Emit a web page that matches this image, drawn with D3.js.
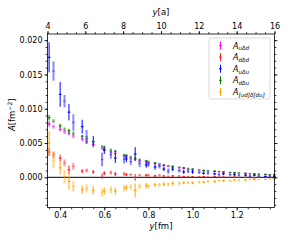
<!DOCTYPE html>
<html><head><meta charset="utf-8">
<script src="https://cdn.jsdelivr.net/npm/d3@7"></script>
<style>body{margin:0;background:#fff}svg{display:block}text{font-family:"DejaVu Sans",sans-serif}</style>
</head><body><svg id="c" width="288" height="240"></svg>
<script>
const xFm = [0.35,0.37,0.40,0.42,0.44,0.46,0.50,0.52,0.55,0.59,0.60,0.63,0.65,0.69,0.70,0.72,0.74,0.76,0.79,0.80,0.83,0.85,0.87,0.89,0.91,0.94,0.96,0.98,1.00,1.03,1.05,1.07,1.10,1.12,1.14,1.17,1.19,1.21,1.24,1.26,1.28,1.30,1.33,1.35,1.37];
const uDd = [0.0078,0.0074,0.0070,0.0066,0.0064,0.0060,0.0056,0.0052,0.0048,0.0042,0.0040,0.0037,0.0035,0.0031,0.0030,0.0028,0.0026,0.0024,0.0022,0.0021,0.0020,0.0018,0.0017,0.0016,0.0015,0.0014,0.0013,0.0012,0.0011,0.0010,0.00095,0.0009,0.00085,0.0008,0.00075,0.0007,0.00065,0.0006,0.00055,0.0005,0.00047,0.00044,0.0004,0.00038,0.00035];
const uDdErr = [0.0004,0.0003,0.0003,0.0003,0.0003,0.0003,0.0003,0.0003,0.0002,0.0002,0.0002,0.0002,0.0002,0.0002,0.0002,0.0002,0.0002,0.0002,0.00015,0.00015,0.00015,0.00015,0.00015,0.00015,0.0001,0.0001,0.0001,0.0001,0.0001,0.0001,0.0001,0.0001,0.0001,0.0001,0.0001,0.0001,0.0001,0.0001,0.0001,0.0001,0.0001,0.0001,0.0001,0.0001,0.0001];
const dDd = [0.0037,0.0033,0.0028,0.0021,0.0011,0.0016,0.0009,0.0010,0.0008,0.0002,0.0006,0.0007,0.0005,0.0005,0.0004,0.0004,0.0000,0.0003,0.0003,0.0003,0.0002,0.0003,0.0002,0.0001,0.0002,0.0002,0.0001,0.0001,0.0001,0.0001,0.0001,0.00005,0.0001,0.00005,0.00005,0.0,0.00005,0.0,0.0,0.0,-0.00005,0.0,0.0,0.0,0.0];
const dDdErr = [0.0006,0.0005,0.0005,0.0005,0.0006,0.0005,0.0003,0.0003,0.0003,0.0004,0.0003,0.0003,0.0003,0.0003,0.0002,0.0002,0.0005,0.0002,0.0002,0.0002,0.0002,0.0002,0.00015,0.0002,0.00015,0.00015,0.00015,0.00015,0.0001,0.0001,0.0001,0.0001,0.0001,0.0001,0.0001,0.0001,0.0001,0.0001,0.0001,0.0001,0.0001,0.0001,0.0001,0.0001,0.0001];
const uDu = [0.0175,0.0155,0.0121,0.0111,0.0095,0.0080,0.0074,0.0059,0.0052,0.0026,0.0040,0.0033,0.0028,0.0026,0.0027,0.0023,0.0034,0.0020,0.0018,0.0019,0.0015,0.0016,0.0012,0.0009,0.0012,0.0010,0.0008,0.0009,0.0008,0.0007,0.0006,0.0006,0.0005,0.0004,0.0005,0.0004,0.0004,0.0003,0.0003,0.0002,0.0003,0.0002,0.0001,0.0002,0.0001];
const uDuErr = [0.0022,0.0014,0.0018,0.0009,0.0012,0.0012,0.0010,0.0010,0.0008,0.0010,0.0006,0.0006,0.0007,0.0006,0.0005,0.0005,0.0010,0.0005,0.0004,0.0004,0.0004,0.0003,0.0003,0.0004,0.0003,0.0003,0.0003,0.0003,0.0003,0.0002,0.0002,0.0002,0.0002,0.0002,0.0002,0.0002,0.0002,0.00015,0.00015,0.00015,0.00015,0.00015,0.00015,0.00015,0.00015];
const dDu = [0.0087,0.0082,0.0075,0.0070,0.0068,0.0064,0.0060,0.0056,0.0052,0.0045,0.0043,0.0040,0.0038,0.0033,0.0032,0.0030,0.0028,0.0026,0.0024,0.0023,0.0021,0.0020,0.0018,0.0017,0.0016,0.0015,0.0014,0.0013,0.0012,0.0011,0.0010,0.00095,0.0009,0.00085,0.0008,0.00072,0.00068,0.00064,0.00058,0.00054,0.0005,0.00046,0.00042,0.0004,0.00037];
const dDuErr = [0.0004,0.0003,0.0003,0.0003,0.0003,0.0003,0.0002,0.0002,0.0002,0.0002,0.0002,0.0002,0.0002,0.00015,0.00015,0.00015,0.00015,0.00015,0.00015,0.00015,0.0001,0.0001,0.0001,0.0001,0.0001,0.0001,0.0001,0.0001,0.0001,0.0001,0.0001,0.0001,0.0001,0.0001,0.0001,0.0001,0.0001,0.0001,0.0001,0.0001,0.0001,0.0001,0.0001,0.0001,0.0001];
const udDdu = [0.0050,0.0025,0.0014,0.0001,-0.0006,-0.0013,-0.0018,-0.0016,-0.0019,-0.0022,-0.0020,-0.0018,-0.0020,-0.0016,-0.0015,-0.0014,-0.0019,-0.0013,-0.0012,-0.0013,-0.0011,-0.0011,-0.0010,-0.0010,-0.0009,-0.0009,-0.0008,-0.0008,-0.0008,-0.0007,-0.0007,-0.0006,-0.0006,-0.0005,-0.0005,-0.0005,-0.0004,-0.0004,-0.0004,-0.0003,-0.0003,-0.0003,-0.0003,-0.0002,-0.0002];
const udDduErr = [0.0017,0.0012,0.0010,0.0010,0.0012,0.0008,0.0006,0.0006,0.0006,0.0006,0.0005,0.0005,0.0005,0.0005,0.0004,0.0004,0.0010,0.0004,0.0004,0.0003,0.0003,0.0003,0.0003,0.0003,0.0003,0.0003,0.0002,0.0002,0.0002,0.0002,0.0002,0.0002,0.0002,0.00015,0.00015,0.00015,0.00015,0.00015,0.00015,0.00015,0.00015,0.0001,0.0001,0.0001,0.0001];
const seriesNames = ["uδd","dδd","uδu","dδu","[ud]δ[du]"];
const seriesColors = ["#ff00ff","#ff2020","#0000ff","#008000","#ffa500"];
const yTicks = [0.000,0.005,0.010,0.015,0.020];
const xTicks = [0.4,0.6,0.8,1.0,1.2];
const aTicks = [4,6,8,10,12,14,16];

const series = [
  {v:uDd,e:uDdErr},{v:dDd,e:dDdErr},{v:uDu,e:uDuErr},{v:dDu,e:dDuErr},{v:udDdu,e:udDduErr}
];
const drawOrder = [0,1,2,3,4];

const svg = d3.select("#c");
const L=47.5,R=274.5,T=34,B=207.5;
const aLat = 0.0857;
const x = d3.scaleLinear().domain([4*aLat,16*aLat]).range([L,R]);
const xa = d3.scaleLinear().domain([4,16]).range([L,R]);
const y = d3.scaleLinear().domain([-0.0044,0.0209]).range([B,T]);

svg.append("line").attr("x1",L).attr("x2",R).attr("y1",y(0)).attr("y2",y(0)).attr("stroke","#000").attr("stroke-width",1);

const g = svg.append("g");
drawOrder.forEach(si=>{
  const s = series[si], col = seriesColors[si];
  const sg = g.append("g");
  xFm.forEach((xv,i)=>{
    const op = (i%2===1)?0.45:1;
    const w = (i%2===1)?2:1;
    sg.append("line").attr("x1",x(xv)).attr("x2",x(xv))
      .attr("y1",y(s.v[i]-s.e[i])).attr("y2",y(s.v[i]+s.e[i]))
      .attr("stroke",col).attr("stroke-width",w).attr("opacity",op);
    sg.append("line").attr("x1",x(xv)-1.3).attr("x2",x(xv)+1.3)
      .attr("y1",y(s.v[i])).attr("y2",y(s.v[i]))
      .attr("stroke",col).attr("stroke-width",1.2).attr("opacity",op);
  });
});

svg.append("rect").attr("x",L).attr("y",T).attr("width",R-L).attr("height",B-T)
  .attr("fill","none").attr("stroke","#000").attr("stroke-width",0.8);

function axisStyle(sel){
  sel.select(".domain").remove();
  sel.selectAll("text").attr("font-size",8).attr("fill","#000").style("font-family","DejaVu Sans");
  sel.selectAll("line").attr("stroke","#000").attr("stroke-width",0.8);
}
const minorX = d3.range(0,21).map(i=>0.35+i*0.05).filter(v=>v<=1.371);
const minorA = d3.range(0,25).map(i=>4+i*0.5);
const minorY = d3.range(-4,21).map(i=>i*0.001);

svg.append("g").attr("transform",`translate(0,${B})`).call(d3.axisBottom(x).tickValues(minorX).tickSize(1.8).tickFormat("")).call(axisStyle);
svg.append("g").attr("transform",`translate(0,${B})`).call(d3.axisBottom(x).tickValues(xTicks).tickSize(3).tickPadding(2).tickFormat(d3.format(".1f"))).call(axisStyle);
svg.append("g").attr("transform",`translate(0,${T})`).call(d3.axisTop(xa).tickValues(minorA).tickSize(1.8).tickFormat("")).call(axisStyle);
svg.append("g").attr("transform",`translate(0,${T})`).call(d3.axisTop(xa).tickValues(aTicks).tickSize(3).tickPadding(2).tickFormat(d3.format("d"))).call(axisStyle);
svg.append("g").attr("transform",`translate(${L},0)`).call(d3.axisLeft(y).tickValues(minorY).tickSize(1.8).tickFormat("")).call(axisStyle);
svg.append("g").attr("transform",`translate(${L},0)`).call(d3.axisLeft(y).tickValues(yTicks).tickSize(3).tickPadding(2).tickFormat(d3.format(".3f"))).call(axisStyle);
svg.append("g").attr("transform",`translate(${R},0)`).call(d3.axisRight(y).tickValues(minorY).tickSize(1.8).tickFormat("")).call(axisStyle);
svg.append("g").attr("transform",`translate(${R},0)`).call(d3.axisRight(y).tickValues(yTicks).tickSize(3).tickFormat("")).call(axisStyle);

const xl = svg.append("text").attr("x",(L+R)/2).attr("y",229).attr("text-anchor","middle").attr("font-size",8.5);
xl.append("tspan").attr("font-style","italic").text("y");
xl.append("tspan").text("[fm]");
const tl = svg.append("text").attr("x",(L+R)/2).attr("y",15).attr("text-anchor","middle").attr("font-size",8.5);
tl.append("tspan").attr("font-style","italic").text("y");
tl.append("tspan").text("[a]");
const yl = svg.append("text").attr("transform",`translate(15,${(T+B)/2-6}) rotate(-90)`).attr("text-anchor","middle").attr("font-size",8.5);
yl.append("tspan").attr("font-style","italic").text("A");
yl.append("tspan").text("[fm");
yl.append("tspan").attr("font-size",6).attr("dy",-3).text("−2");
yl.append("tspan").attr("dy",3).text("]");

const lg = svg.append("g");
lg.append("rect").attr("x",209).attr("y",38).attr("width",61).attr("height",61).attr("rx",2)
  .attr("fill","#fff").attr("fill-opacity",0.8).attr("stroke","#d0d0d0").attr("stroke-width",0.8);
seriesNames.forEach((n,i)=>{
  const cy = 45.5 + i*11.6;
  lg.append("line").attr("x1",220.5).attr("x2",220.5).attr("y1",cy-4).attr("y2",cy+4).attr("stroke",seriesColors[i]).attr("stroke-width",1);
  lg.append("line").attr("x1",219.2).attr("x2",221.8).attr("y1",cy).attr("y2",cy).attr("stroke",seriesColors[i]).attr("stroke-width",1.2);
  const t = lg.append("text").attr("x",233).attr("y",cy+3).attr("font-size",8).attr("font-style","italic");
  t.append("tspan").text("A");
  t.append("tspan").attr("font-size",5.6).attr("dy",1.8).text(n);
});
</script></body></html>
